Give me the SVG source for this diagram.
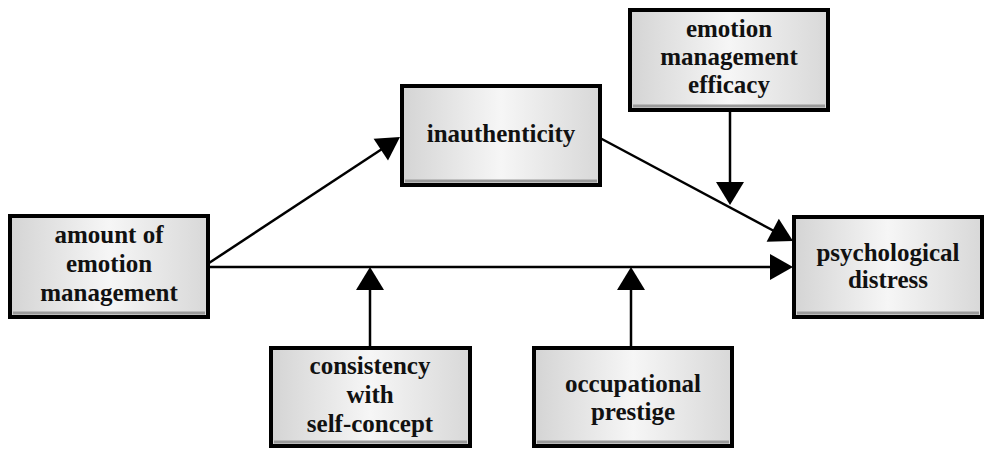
<svg xmlns="http://www.w3.org/2000/svg" width="985" height="451" viewBox="0 0 985 451">
<defs>
<linearGradient id="g" x1="0" y1="0" x2="1" y2="0">
<stop offset="0" stop-color="#d4d4d4"/>
<stop offset="0.5" stop-color="#f6f6f6"/>
<stop offset="1" stop-color="#d8d8d8"/>
</linearGradient>
<style>
.box{fill:url(#g);stroke:#000;stroke-width:4}
.bev{fill:none;stroke:#9a9a9a;stroke-width:3}
.t{font-family:"Liberation Serif","Times New Roman",serif;font-weight:bold;font-size:25px;fill:#111;text-anchor:middle}
.c{stroke:#000;stroke-width:2.5;fill:none}
.ah{fill:#000}
</style>
</defs>
<rect width="985" height="451" fill="#fff"/>
<g id="connectors">
<line class="c" x1="209" y1="263" x2="382" y2="149"/>
<path class="ah" d="M400,137 L388,160.6 L373.6,138.8 Z"/>
<line class="c" x1="209" y1="267" x2="772" y2="267"/>
<path class="ah" d="M793,267 L770,254 L770,280 Z"/>
<line class="c" x1="600" y1="138" x2="774" y2="231"/>
<path class="ah" d="M793,241 L766.6,241.7 L778.8,218.7 Z"/>
<line class="c" x1="730" y1="111" x2="730" y2="184"/>
<path class="ah" d="M730,205 L716,182 L744,182 Z"/>
<line class="c" x1="370" y1="346" x2="370" y2="288"/>
<path class="ah" d="M370,267 L356,290 L384,290 Z"/>
<line class="c" x1="631" y1="346" x2="631" y2="288"/>
<path class="ah" d="M631,267 L617,290 L645,290 Z"/>
</g>
<g id="amount">
<rect class="box" x="10" y="216" width="198" height="101"/>
<line class="bev" x1="13" y1="313" x2="205" y2="313"/>
<text class="t" x="109" y="243">amount of</text>
<text class="t" x="109" y="272">emotion</text>
<text class="t" x="109" y="301">management</text>
</g>
<g id="inauthenticity">
<rect class="box" x="402" y="86" width="198" height="99"/>
<line class="bev" x1="405" y1="181" x2="597" y2="181"/>
<text class="t" x="501" y="142">inauthenticity</text>
</g>
<g id="efficacy">
<rect class="box" x="630" y="10" width="198" height="100"/>
<line class="bev" x1="633" y1="106" x2="825" y2="106"/>
<text class="t" x="729" y="37">emotion</text>
<text class="t" x="729" y="65">management</text>
<text class="t" x="729" y="93">efficacy</text>
</g>
<g id="distress">
<rect class="box" x="794" y="217" width="188" height="100"/>
<line class="bev" x1="797" y1="313" x2="979" y2="313"/>
<text class="t" x="888" y="261">psychological</text>
<text class="t" x="888" y="288">distress</text>
</g>
<g id="consistency">
<rect class="box" x="271" y="348" width="199" height="98"/>
<line class="bev" x1="274" y1="442" x2="467" y2="442"/>
<text class="t" x="370" y="374">consistency</text>
<text class="t" x="370" y="403">with</text>
<text class="t" x="370" y="432">self-concept</text>
</g>
<g id="occupational">
<rect class="box" x="534" y="348" width="198" height="98"/>
<line class="bev" x1="537" y1="442" x2="729" y2="442"/>
<text class="t" x="633" y="392">occupational</text>
<text class="t" x="633" y="420">prestige</text>
</g>
</svg>
